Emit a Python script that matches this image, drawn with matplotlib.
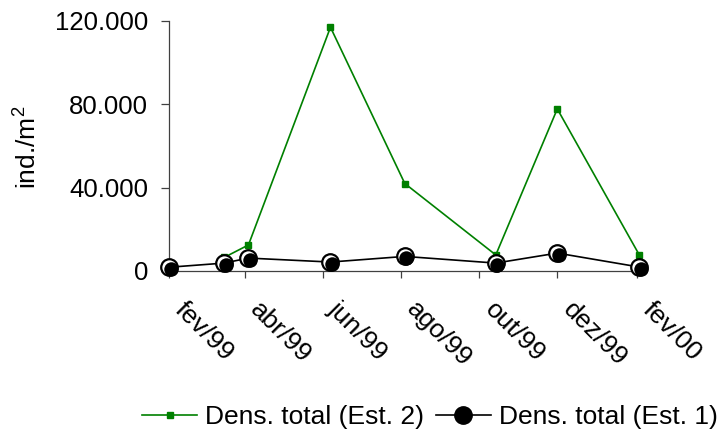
import numpy as np
import pandas as pd
import matplotlib
matplotlib.use("Agg")
import matplotlib.pyplot as plt
from matplotlib.ticker import FuncFormatter
from matplotlib.transforms import ScaledTranslation

plt.rcParams["font.family"] = ["Liberation Sans", "DejaVu Sans"]
plt.rcParams["mathtext.fontset"] = "custom"
plt.rcParams["mathtext.rm"] = "Liberation Sans"

# ── data
dates_est1 = ["1999-02-01", "1999-03-16", "1999-04-04", "1999-06-07",
              "1999-08-04", "1999-10-14", "1999-12-01", "2000-02-03"]
dens_est1 = [1800, 3800, 6200, 4300, 7000, 3800, 8600, 1900]

dates_est2 = ["1999-03-16", "1999-04-04", "1999-06-07", "1999-08-04",
              "1999-10-14", "1999-12-01", "2000-02-03"]
dens_est2 = [6500, 12500, 117000, 42000, 7700, 77800, 7700]

tick_dates = ["1999-02-01", "1999-04-01", "1999-06-01", "1999-08-01",
              "1999-10-01", "1999-12-01", "2000-02-01"]
tick_labels = ["fev/99", "abr/99", "jun/99", "ago/99", "out/99", "dez/99", "fev/00"]
y_ticks = [0, 40000, 80000, 120000]

x1 = pd.to_datetime(dates_est1)
x2 = pd.to_datetime(dates_est2)

FS = 19
fig = plt.figure(figsize=(7.2, 4.32), dpi=100)
ax = fig.add_axes([169 / 720, 1 - 271 / 432, (647 - 169) / 720, 250 / 432])

GREEN = "#008000"
l2, = ax.plot(x2, dens_est2, color=GREEN, lw=1.2, marker="s", ms=3.8,
              mec=GREEN, mfc=GREEN, clip_on=False, zorder=3,
              label="Dens. total (Est. 2)")

# black series: outline, white highlight, black body shifted down-right
l1, = ax.plot(x1, dens_est1, color="black", lw=1.2, marker="o", ms=12.5,
              mfc="black", mec="black", clip_on=False, zorder=4,
              label="Dens. total (Est. 1)")
ax.plot(x1, dens_est1, ls="none", marker="o", ms=10.3, mfc="white", mec="none",
        clip_on=False, zorder=5)
shift = ax.transData + ScaledTranslation(1.5 / 100, -1.5 / 100, fig.dpi_scale_trans)
ax.plot(x1, dens_est1, ls="none", marker="o", ms=10.4, mfc="black", mec="none",
        clip_on=False, zorder=6, transform=shift)

ax.set_xlim(pd.Timestamp("1999-02-01"), pd.Timestamp("2000-02-09"))
ax.set_ylim(0, 120000)
ax.set_yticks(y_ticks)
ax.yaxis.set_major_formatter(FuncFormatter(lambda v, p: f"{v:,.0f}".replace(",", ".")))
ax.set_xticks(pd.to_datetime(tick_dates))
ax.set_xticklabels(tick_labels)

for s in ["top", "right"]:
    ax.spines[s].set_visible(False)
for s in ["left", "bottom"]:
    ax.spines[s].set_color("#404040")
    ax.spines[s].set_linewidth(0.9)

ax.tick_params(axis="y", direction="out", length=6, width=0.9, color="#404040",
               labelsize=18.5, pad=9)
ax.tick_params(axis="x", direction="out", length=5, width=0.9, color="#404040",
               labelsize=FS, pad=14)

for lab in ax.get_xticklabels():
    lab.set_rotation(-45)
    lab.set_rotation_mode("anchor")
    lab.set_ha("left")
    lab.set_va("top")
    lab.set_transform(lab.get_transform() + ScaledTranslation(18 / 100, 0, fig.dpi_scale_trans))

fig.text(27 / 720, 1 - 147 / 432, "ind./m$^{\\mathrm{2}}$", rotation=90, fontsize=FS,
         ha="center", va="center")

fig.legend(handles=[l2, l1], loc="center", bbox_to_anchor=(430 / 720, 1 - 417 / 432),
           ncol=2, frameon=False, fontsize=FS, handlelength=2.08,
           handletextpad=0.3, columnspacing=0.45, borderpad=0)

plt.savefig("out.png", dpi=100)
